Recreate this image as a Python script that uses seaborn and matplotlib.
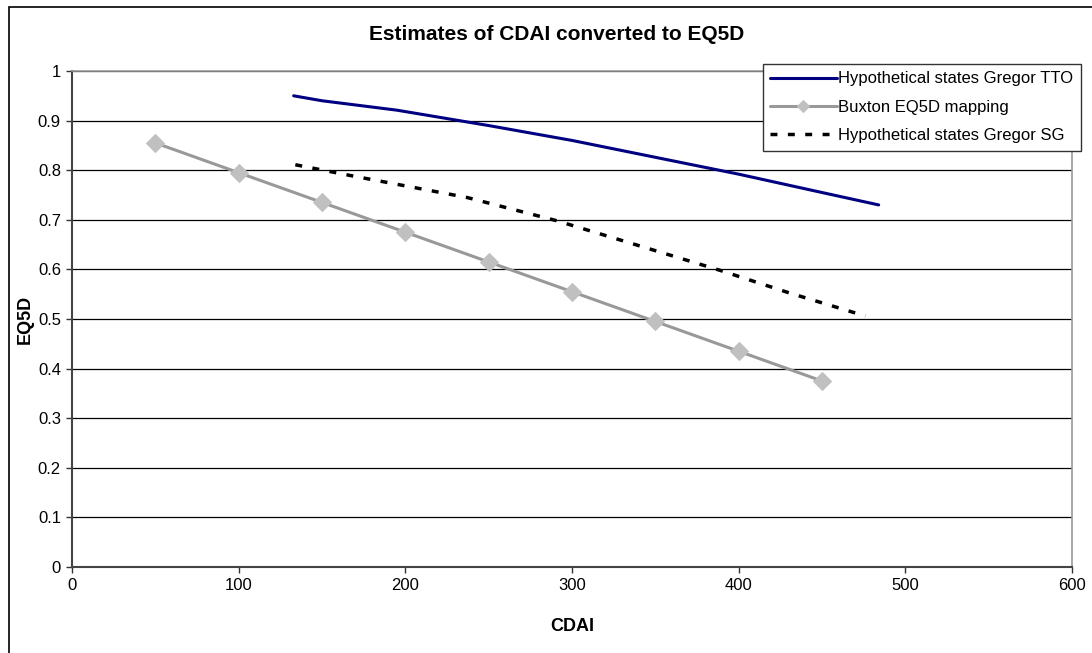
"""
Estimates of CDAI converted to EQ5D - line chart recreated with seaborn.
"""

import pandas as pd
import seaborn as sns
import matplotlib.pyplot as plt
from matplotlib.patches import Rectangle

# Data
tto_cdai = [133, 150, 195, 250, 300, 350, 400, 450, 484]
tto_eq5d = [0.950, 0.940, 0.921, 0.890, 0.860, 0.826, 0.792, 0.755, 0.730]

buxton_cdai = [50, 100, 150, 200, 250, 300, 350, 400, 450]
buxton_eq5d = [0.855, 0.795, 0.735, 0.675, 0.615, 0.555, 0.495, 0.435, 0.375]

sg_cdai = [134, 169, 237, 291, 340, 388, 430, 476]
sg_eq5d = [0.811, 0.788, 0.745, 0.698, 0.648, 0.599, 0.553, 0.506]

labels = ["Hypothetical states Gregor TTO", "Buxton EQ5D mapping", "Hypothetical states Gregor SG"]

x_ticks = [0, 100, 200, 300, 400, 500, 600]
y_ticks = [0, 0.1, 0.2, 0.3, 0.4, 0.5, 0.6, 0.7, 0.8, 0.9, 1]
y_ticklabels = ["0", "0.1", "0.2", "0.3", "0.4", "0.5", "0.6", "0.7", "0.8", "0.9", "1"]

sns.set_style("white")
plt.rcParams["font.family"] = ["Liberation Sans", "DejaVu Sans"]
plt.rcParams["text.color"] = "black"
plt.rcParams["axes.labelcolor"] = "black"
plt.rcParams["xtick.labelcolor"] = "black"
plt.rcParams["ytick.labelcolor"] = "black"

fig = plt.figure(figsize=(10.92, 6.53), dpi=100)
ax = fig.add_axes([72 / 1092, 1 - 567 / 653, 1000 / 1092, 496 / 653])

tto = pd.DataFrame({"CDAI": tto_cdai, "EQ5D": tto_eq5d})
bux = pd.DataFrame({"CDAI": buxton_cdai, "EQ5D": buxton_eq5d})
sg = pd.DataFrame({"CDAI": sg_cdai, "EQ5D": sg_eq5d})

sns.lineplot(data=tto, x="CDAI", y="EQ5D", ax=ax, color="#000080", linewidth=2.2,
             label=labels[0], zorder=3)
sns.lineplot(data=bux, x="CDAI", y="EQ5D", ax=ax, color="#999999", linewidth=2.2,
             marker="D", markersize=9, markerfacecolor="#C0C0C0", markeredgecolor="#C0C0C0",
             label=labels[1], zorder=3)
sns.lineplot(data=sg, x="CDAI", y="EQ5D", ax=ax, color="black", linewidth=2.5,
             label=labels[2], zorder=3)
ax.lines[-1].set_dashes((2, 3))

ax.set_xlim(0, 600)
ax.set_ylim(0, 1)
ax.set_xticks(x_ticks)
ax.set_yticks(y_ticks)
ax.set_yticklabels(y_ticklabels)
ax.tick_params(axis="both", labelsize=12, length=4, width=1, color="#333333", pad=4,
               direction="out", left=True, bottom=True)

ax.yaxis.grid(True, color="black", linewidth=0.9)
ax.xaxis.grid(False)
ax.set_axisbelow(True)

for side in ["top", "right"]:
    ax.spines[side].set_color("#999999")
    ax.spines[side].set_linewidth(1.2)
for side in ["left", "bottom"]:
    ax.spines[side].set_color("#444444")
    ax.spines[side].set_linewidth(1.5)

ax.set_xlabel("CDAI", fontsize=13, fontweight="bold", labelpad=18)
ax.set_ylabel("EQ5D", fontsize=13, fontweight="bold")
ax.yaxis.set_label_coords(-0.038, 0.5)

fig.text(0.51, 1 - 35 / 653, "Estimates of CDAI converted to EQ5D", fontsize=15,
         fontweight="bold", ha="center", va="center")

leg = ax.legend(loc="upper right", bbox_to_anchor=(1081 / 1092, 1 - 64 / 653),
                bbox_transform=fig.transFigure, fontsize=12, frameon=True, fancybox=False,
                edgecolor="#333333", framealpha=1, handlelength=4.0, handletextpad=0.1,
                borderpad=0.45, labelspacing=0.8, borderaxespad=0)
leg.get_frame().set_linewidth(1.0)
for h in leg.legend_handles:
    if h.get_marker() == "D":
        h.set_markersize(6)

# chart area border (only left/top visible in the original crop)
fig.patches.append(Rectangle((9 / 1092, -0.1), 1.2, 1 - 7 / 653 + 0.1, transform=fig.transFigure,
                             fill=False, edgecolor="black", linewidth=1.2, zorder=0))

plt.savefig("out.png", dpi=100)
plt.close()
